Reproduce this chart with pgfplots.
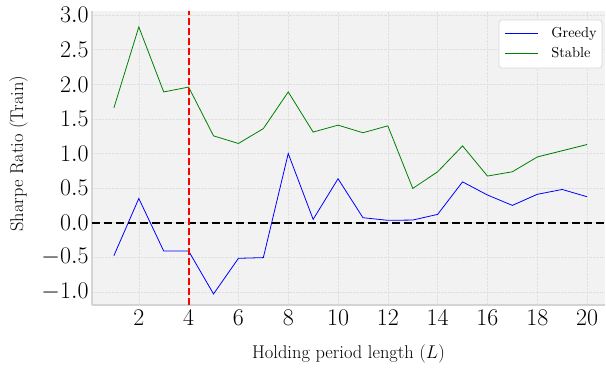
\RequirePackage{fix-cm}
\documentclass[border=0pt]{standalone}
\usepackage{fontspec}
\usepackage{pgfplots}
\pgfplotsset{compat=1.18}
\definecolor{gline}{rgb}{0,0.5,0}
\definecolor{bline}{rgb}{0,0,1}
\definecolor{lframe}{rgb}{0.85,0.85,0.85}
\pgfplotstableread{
L greedy stable
1 -0.476 1.66
2 0.35 2.83
3 -0.41 1.89
4 -0.41 1.96
5 -1.03 1.255
6 -0.515 1.145
7 -0.505 1.36
8 1.00 1.89
9 0.048 1.31
10 0.635 1.41
11 0.072 1.30
12 0.034 1.40
13 0.038 0.495
14 0.12 0.736
15 0.59 1.11
16 0.40 0.674
17 0.25 0.736
18 0.41 0.95
19 0.48 1.04
20 0.375 1.13
}\datatable
\begin{document}
\begin{tikzpicture}
\begin{axis}[
  scale only axis, width=513bp, height=294bp,
  xmin=0.12, xmax=20.72, ymin=-1.19, ymax=3.06,
  axis background/.style={fill=black!5},
  axis x line*=bottom, axis y line*=left,
  axis line style={black!17, line width=1.2bp},
  major tick length=0pt,
  xtick={2,4,...,20}, ytick={-1,-0.5,...,3},
  grid=major,
  major grid style={densely dotted, black!12, line width=0.5bp},
  ticklabel style={font=\fontsize{24}{26}\selectfont},
  xticklabel style={yshift=-2bp},
  yticklabel style={/pgf/number format/fixed, /pgf/number format/fixed zerofill, /pgf/number format/precision=1},
  xlabel={Holding period length ($L$)},
  ylabel={Sharpe Ratio (Train)},
  every axis x label/.style={at={(axis description cs:0.5,-0.167)}, anchor=center, font=\fontsize{18.5}{21}\selectfont},
  every axis y label/.style={at={(axis description cs:-0.143,0.515)}, anchor=center, rotate=90, font=\fontsize{18.5}{21}\selectfont},
]
\addplot[bline, line width=0.8bp] table[x=L, y=greedy] {\datatable};
\addplot[gline, line width=0.8bp] table[x=L, y=stable] {\datatable};
\addplot[black, line width=1.8bp, dash pattern=on 8bp off 4bp] coordinates {(0.12,0) (20.72,0)};
\addplot[red, line width=1.8bp, dash pattern=on 7bp off 3bp] coordinates {(4,-1.19) (4,3.06)};
% legend frame and keys
\addplot[draw=lframe, fill=white, rounded corners=3bp, line width=0.8bp] coordinates {(16.464,2.236) (20.60,2.236) (20.60,2.930) (16.464,2.930)} -- cycle;
\addplot[bline, line width=0.8bp] coordinates {(16.704,2.742) (18.03,2.742)};
\addplot[gline, line width=0.8bp] coordinates {(16.704,2.453) (18.03,2.453)};
\node[anchor=base west, inner sep=0pt, scale=1.45] at (axis cs:18.552,2.670) {Greedy};
\node[anchor=base west, inner sep=0pt, scale=1.45] at (axis cs:18.552,2.381) {Stable};
\end{axis}
\pgfresetboundingbox
\path ([shift={(-92bp,-65bp)}]current axis.south west) rectangle ([shift={(1bp,11bp)}]current axis.north east);
\end{tikzpicture}
\end{document}
